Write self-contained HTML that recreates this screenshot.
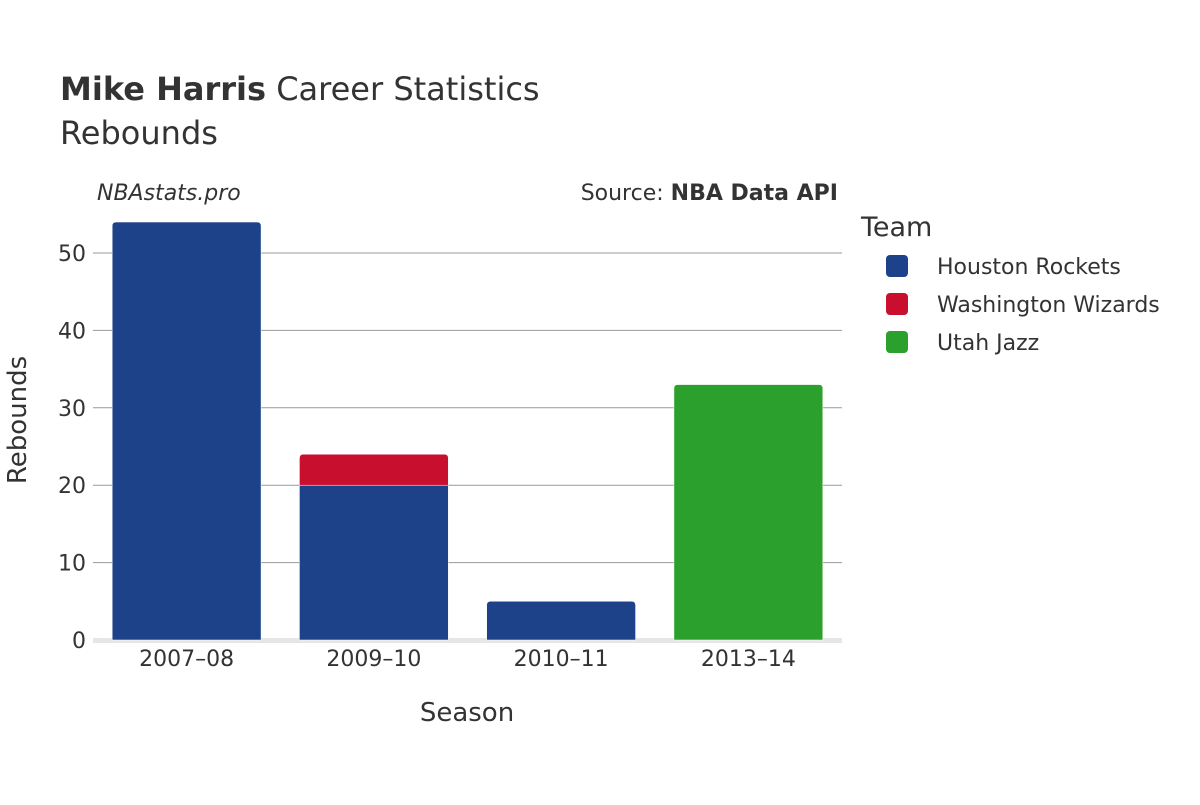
<!DOCTYPE html>
<html><head><meta charset="utf-8"><style>
body{margin:0;background:#fff;}
svg text{font-family:"DejaVu Sans","Liberation Sans",sans-serif;fill:#333;}
</style></head><body>
<svg id="chart" width="1200" height="800" xmlns="http://www.w3.org/2000/svg">
<text x="60" y="100" font-size="32"><tspan font-weight="bold">Mike Harris</tspan> Career Statistics</text>
<text x="60" y="144" font-size="32">Rebounds</text>
<text x="97" y="200" font-size="22" font-style="italic">NBAstats.pro</text>
<text x="838" y="200" font-size="22" text-anchor="end">Source: <tspan font-weight="bold">NBA Data API</tspan></text>
<g id="grid"></g>
<rect x="93" y="638" width="749" height="5" fill="#e6e6e6"/>
<g id="bars"></g>
<g id="xticks"></g>
<g id="yticks"></g>
<text x="467" y="721" font-size="26" text-anchor="middle">Season</text>
<text transform="translate(26,420) rotate(-90)" font-size="26" text-anchor="middle">Rebounds</text>
<text x="861" y="236" font-size="27">Team</text>
<g id="legend"></g>
</svg>
<script>
const seasons=["2007–08","2009–10","2010–11","2013–14"];
const teams=["Houston Rockets","Washington Wizards","Utah Jazz"];
const colors=["#1d428a","#c8102e","#2ca02c"];
const houston=[54,20,5,0];
const wizards=[0,4,0,0];
const jazz=[0,0,0,33];
const yTicks=[0,10,20,30,40,50];
const series=[houston,wizards,jazz];
const NS="http://www.w3.org/2000/svg";
const x0=93,x1=842,yZero=640,pxPer=(640-253)/50;
const band=(x1-x0)/seasons.length,bw=band*0.795;
const y=v=>yZero-v*pxPer;
function mk(tag,attrs,parent){const e=document.createElementNS(NS,tag);for(const k in attrs)e.setAttribute(k,attrs[k]);parent.appendChild(e);return e;}
const grid=document.getElementById('grid'),yt=document.getElementById('yticks');
yTicks.forEach(t=>{
 if(t>0){const l=mk('line',{x1:x0,x2:x1,y1:y(t),y2:y(t),stroke:'#999','stroke-width':1},grid);
 
 }
 const tx=mk('text',{x:86,y:y(t)+8,'font-size':22,'text-anchor':'end'},yt);tx.textContent=t;
 
 
});
const bars=document.getElementById('bars'),xt=document.getElementById('xticks');
seasons.forEach((s,i)=>{
 const cx=x0+band*(i+0.5);
 let base=0;
 const tops=[];series.forEach((sr,j)=>{if(sr[i]>0)tops.push(j);});
 const topIdx=tops[tops.length-1];
 series.forEach((sr,j)=>{
  const v=sr[i];if(!v)return;
  const yt0=y(base+v),yb=y(base),h=yb-yt0,r=j===topIdx?Math.min(4,h):0,xl=cx-bw/2,xr=cx+bw/2;
  const d=`M${xl},${yb}L${xl},${yt0+r}Q${xl},${yt0} ${xl+r},${yt0}L${xr-r},${yt0}Q${xr},${yt0} ${xr},${yt0+r}L${xr},${yb}Z`;
  const p=mk('path',{d:d,fill:colors[j],stroke:'#fff','stroke-width':0.5},bars);
  
  
  base+=v;
 });
 const tx=mk('text',{x:cx,y:666,'font-size':22,'text-anchor':'middle'},xt);tx.textContent=s;
 
 
});
const lg=document.getElementById('legend');
teams.forEach((t,j)=>{
 const yy=266+j*38;
 const r=mk('rect',{x:886,y:yy-11,width:22,height:22,rx:4,fill:colors[j]},lg);
 
 
 const tx=mk('text',{x:937,y:yy+8,'font-size':22},lg);tx.textContent=t;
 
 
});
</script>
</body></html>
